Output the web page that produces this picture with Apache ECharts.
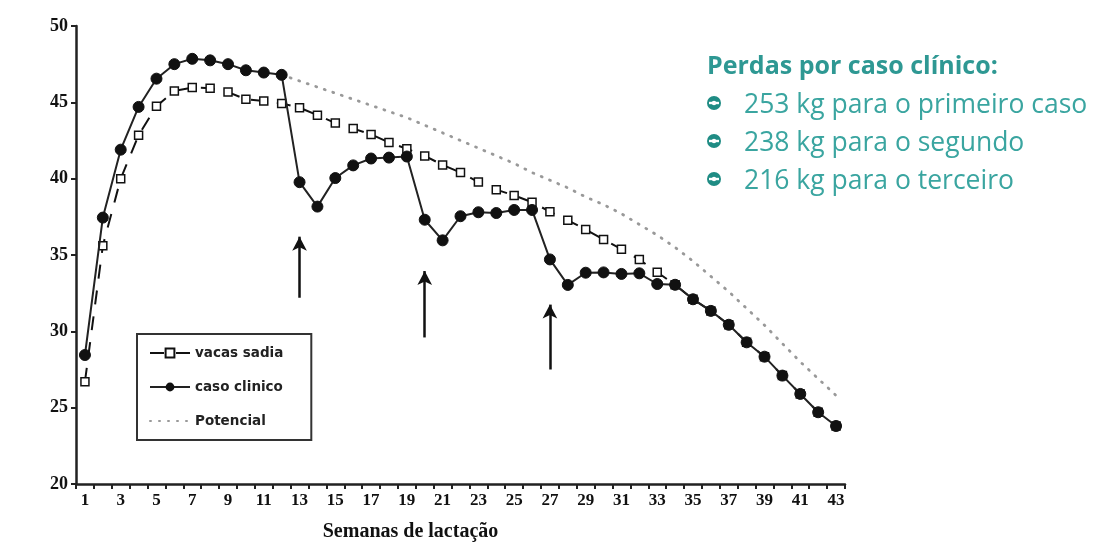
<!DOCTYPE html>
<html>
<head>
<meta charset="utf-8">
<script src="https://cdn.jsdelivr.net/npm/echarts@6/dist/echarts.min.js"></script>
<style>
html,body{margin:0;padding:0;background:#fff;}
#chart{width:1099px;height:547px;}
</style>
</head>
<body>
<div id="chart"></div>
<script>
const weeks = ['1','2','3','4','5','6','7','8','9','10','11','12','13','14','15','16','17','18','19','20','21','22','23','24','25','26','27','28','29','30','31','32','33','34','35','36','37','38','39','40','41','42','43'];

const vacasSadia = [26.7,35.6,40.0,42.85,44.75,45.75,45.97,45.93,45.67,45.2,45.08,44.93,44.65,44.16,43.64,43.28,42.9,42.37,41.96,41.49,40.9,40.4,39.78,39.28,38.9,38.46,37.84,37.27,36.67,36.02,35.38,34.7,33.87,33.05,32.1,31.34,30.43,29.28,28.34,27.1,25.9,24.7,23.8];

const casoClinico = [28.45,37.45,41.9,44.7,46.55,47.5,47.85,47.75,47.5,47.1,46.95,46.8,39.77,38.17,40.04,40.87,41.32,41.38,41.45,37.31,35.96,37.54,37.8,37.75,37.95,37.95,34.71,33.04,33.84,33.86,33.76,33.8,33.1,33.05,32.1,31.34,30.43,29.28,28.34,27.1,25.9,24.7,23.8];

const potencial = [null,null,null,null,null,null,null,null,null,null,null,46.8,46.4,46.0,45.6,45.2,44.8,44.4,44.0,43.5,43.0,42.5,42.0,41.5,41.0,40.4,39.9,39.4,38.8,38.3,37.7,37.0,36.3,35.5,34.6,33.6,32.6,31.5,30.4,29.2,28.0,26.9,25.8];

// arrows: week, from value, to value
const arrowWeeks = ['13','20','27'];
const arrowFrom = [32.2, 29.6, 27.5];
const arrowTo = [36.2, 33.95, 31.75];

const seriesNames = ['vacas sadia','caso clinico','Potencial'];
const xTitle = 'Semanas de lactação';
const noteTitle = 'Perdas por caso clínico:';
const noteLines = ['253 kg para o primeiro caso','238 kg para o segundo','216 kg para o terceiro'];

const chart = echarts.init(document.getElementById('chart'), null, {renderer:'canvas'});

const teal = '#2e9893';
const tealText = '#3aa5a0';
const bulletGraphics = [];
noteLines.forEach((t, i) => {
  const cy = 104 + i * 38;
  bulletGraphics.push({
    type:'group', left:707, top:cy-8,
    children:[
      {type:'circle', shape:{cx:8, cy:8, r:7}, style:{fill:'#1f8c84'}},
      {type:'rect', shape:{x:3, y:6.8, width:10, height:2.4}, style:{fill:'#fff'}},
      {type:'circle', shape:{cx:8, cy:8, r:2.2}, style:{fill:'#fff'}}
    ]
  });
  bulletGraphics.push({
    type:'text', left:744, top:cy-12,
    style:{text:t, fill:tealText, font:'26.5px "Open Sans", Lato, sans-serif'}
  });
});

const option = {
  backgroundColor:'#fff',
  animation:false,
  grid:{left:76, right:254, top:26, bottom:61},
  legend:{
    left:137, top:334, orient:'vertical',
    data:[
      {name:seriesNames[0]},
      {name:seriesNames[1]},
      {name:seriesNames[2], itemStyle:{opacity:0}}
    ],
    borderColor:'#333', borderWidth:2, borderRadius:0,
    padding:[12,28,12,12], itemGap:20, itemWidth:40, itemHeight:11,
    textStyle:{fontFamily:'DejaVu Sans, Verdana, sans-serif', fontWeight:'bold', fontSize:13.5, color:'#222'}
  },
  xAxis:{
    type:'category', data:weeks, boundaryGap:true,
    name:xTitle, nameLocation:'middle', nameGap:38,
    nameTextStyle:{fontFamily:'Liberation Serif, Times New Roman, serif', fontWeight:'bold', fontSize:20, color:'#111', padding:[0,100,0,0]},
    axisLine:{lineStyle:{color:'#222', width:2.5}},
    axisTick:{show:true, interval:0, length:5, lineStyle:{color:'#222', width:2}},
    axisLabel:{interval:1, margin:8, fontFamily:'Liberation Serif, Times New Roman, serif', fontWeight:'bold', fontSize:17, color:'#111'},
    splitLine:{show:false}
  },
  yAxis:{
    type:'value', min:20, max:50, interval:5,
    axisLine:{show:true, lineStyle:{color:'#222', width:2.5}},
    axisTick:{show:true, length:5, lineStyle:{color:'#222', width:2}},
    axisLabel:{margin:8, fontFamily:'Liberation Serif, Times New Roman, serif', fontWeight:'bold', fontSize:18, color:'#111'},
    splitLine:{show:false}
  },
  graphic:[
    {type:'text', left:707, top:54, style:{text:noteTitle, fill:teal, font:'bold 25px "Open Sans", Lato, sans-serif'}}
  ].concat(bulletGraphics),
  series:[
    {
      name:seriesNames[0], type:'line', data:vacasSadia, z:3,
      symbol:'rect', symbolSize:8,
      itemStyle:{color:'#fff', borderColor:'#111', borderWidth:1.5},
      lineStyle:{color:'#111', width:2, type:[14,12]},
      color:'#111'
    },
    {
      name:seriesNames[1], type:'line', data:casoClinico, z:4,
      symbol:'circle', symbolSize:11,
      itemStyle:{color:'#111', borderColor:'#111'},
      lineStyle:{color:'#222', width:2}
    },
    {
      name:seriesNames[2], type:'line', data:potencial, z:2,
      symbol:'none', connectNulls:false,
      itemStyle:{color:'#999'},
      lineStyle:{color:'#999', width:2.8, type:[1,8], cap:'round'},
      markLine:{
        silent:true, symbol:['none','arrow'], symbolSize:[11,14],
        label:{show:false},
        lineStyle:{color:'#111', width:2.5, type:'solid'},
        data: arrowWeeks.map((w,i)=>[{coord:[w, arrowFrom[i]]},{coord:[w, arrowTo[i]]}])
      }
    }
  ]
};
chart.setOption(option);
</script>
</body>
</html>
